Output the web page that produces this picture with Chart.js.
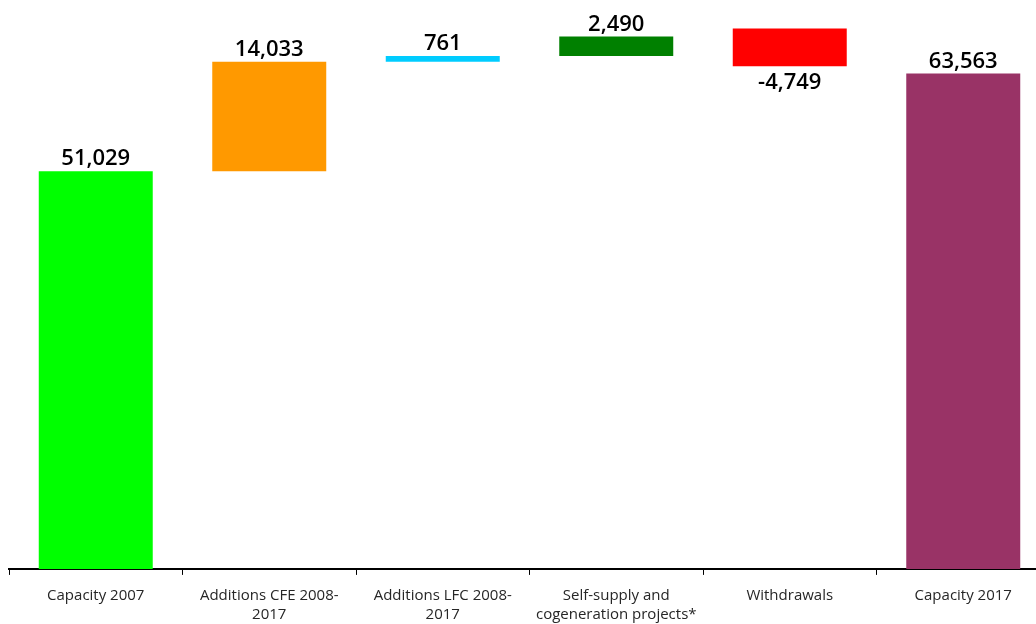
<!DOCTYPE html>
<html>
<head>
<meta charset="utf-8">
<script src="https://cdn.jsdelivr.net/npm/chart.js@4/dist/chart.umd.min.js"></script>
<style>
    html, body { margin: 0; padding: 0; background: #fff; overflow: hidden; }
    #wrap { position: relative; width: 1050px; height: 635px; }
</style>
</head>
<body>
<div id="wrap"><canvas id="waterfall"></canvas></div>
<script>
"use strict";

// Categories (wrapped like the original)
const categories = [
    "Capacity 2007",
    ["Additions CFE 2008-", "2017"],
    ["Additions LFC 2008-", "2017"],
    ["Self-supply and", "cogeneration projects*"],
    "Withdrawals",
    "Capacity 2017"
];

// Floating bar ranges (MW)
const barStart = [0,     51029, 65062, 65823, 64500, 0];
const barEnd   = [51029, 65062, 65823, 68313, 69350, 63563];

// Printed values
const valueLabels = [51029, 14033, 761, 2490, -4749, 63563];

const barColors = ["#00FF00", "#FF9900", "#00CCFF", "#008000", "#FF0000", "#993366"];

const FONT = "'Open Sans', 'Noto Sans', sans-serif";

const valueLabelPlugin = {
    id: "valueLabels",
    afterDatasetsDraw(chart) {
        const { ctx } = chart;
        const meta = chart.getDatasetMeta(0);
        ctx.save();
        ctx.font = `600 22px ${FONT}`;
        ctx.fillStyle = "#000";
        ctx.textAlign = "center";
        ctx.textBaseline = "alphabetic";
        meta.data.forEach((bar, i) => {
            const v = valueLabels[i];
            const top = Math.min(bar.y, bar.base);
            const bottom = Math.max(bar.y, bar.base);
            const txt = v.toLocaleString("en-US");
            if (v < 0) ctx.fillText(txt, bar.x, bottom + 23);
            else ctx.fillText(txt, bar.x, top - 6);
        });
        ctx.restore();
    }
};

function initWaterfall() {
    const canvas = document.getElementById("waterfall");

    new Chart(canvas, {
        type: "bar",
        data: {
            labels: categories,
            datasets: [{
                data: barStart.map((s, i) => [s, barEnd[i]]),
                backgroundColor: barColors,
                borderWidth: 0,
                barPercentage: 0.657,
                categoryPercentage: 1.0
            }]
        },
        options: {
            responsive: true,
            maintainAspectRatio: false,
            animation: false,
            layout: { padding: { left: 9, right: 0, top: 0, bottom: 0 } },
            plugins: {
                legend: { display: false },
                tooltip: { enabled: false }
            },
            scales: {
                x: {
                    grid: {
                        offset: true,
                        drawOnChartArea: false,
                        drawTicks: true,
                        tickLength: 6,
                        color: "#000",
                        lineWidth: 1
                    },
                    border: { display: true, color: "#000", width: 2 },
                    ticks: {
                        color: "#262626",
                        padding: 11,
                        maxRotation: 0,
                        autoSkip: false,
                        font: { family: FONT, size: 15, lineHeight: 1.27 }
                    }
                },
                y: {
                    display: false,
                    min: 0,
                    max: 73000
                }
            }
        },
        plugins: [valueLabelPlugin]
    });
}

initWaterfall();
</script>
</body>
</html>
